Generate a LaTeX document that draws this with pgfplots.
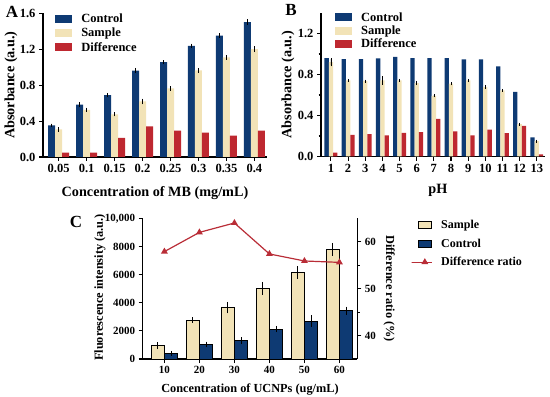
\documentclass[border=0pt]{standalone}
\usepackage{fontspec}
\setmainfont{Liberation Serif}
\usepackage{pgfplots}
\usepackage{pgfplotstable}
\pgfplotsset{compat=1.18}
\definecolor{cblue}{RGB}{14,58,115}
\definecolor{ccream}{RGB}{242,227,183}
\definecolor{cred}{RGB}{190,40,48}
\definecolor{cline}{RGB}{185,45,55}
\newcommand{\fs}[1]{\fontsize{#1}{#1}\selectfont\bfseries}

\pgfplotstableread{
x ctrl ce samp se diff
0 0.353 0.000 0.308 0.008 0.048
1 0.582 0.012 0.526 0.006 0.048
2 0.688 0.006 0.474 0.005 0.212
3 0.962 0.012 0.618 0.015 0.342
4 1.056 0.006 0.763 0.008 0.294
5 1.238 0.006 0.964 0.006 0.272
6 1.352 0.008 1.108 0.006 0.238
7 1.502 0.015 1.200 0.014 0.294
}\tabA

\pgfplotstableread{
x ctrl ce samp se diff
1 0.960 0.000 0.920 0.030 0.038
2 0.950 0.000 0.742 0.005 0.211
3 0.950 0.000 0.736 0.005 0.218
4 0.957 0.000 0.742 0.030 0.205
5 0.973 0.000 0.742 0.005 0.230
6 0.960 0.000 0.717 0.010 0.237
7 0.960 0.000 0.592 0.005 0.368
8 0.960 0.000 0.710 0.006 0.246
9 0.947 0.000 0.742 0.006 0.205
10 0.947 0.000 0.678 0.006 0.262
11 0.880 0.000 0.646 0.003 0.227
12 0.630 0.000 0.315 0.006 0.298
13 0.187 0.000 0.150 0.006 0.021
}\tabB

\pgfplotstableread{
x samp se ctrl ce ratio
0 950 100 400 40 57.9
1 2760 50 1040 50 62.0
2 3650 260 1300 120 64.0
3 5020 320 2130 80 57.4
4 6160 300 2700 260 55.9
5 7800 310 3430 150 55.6
}\tabC

\pgfplotsset{
  panel/.style={scale only axis, clip=false,
    axis x line*=bottom, axis y line*=left,
    axis line style={-, line width=1.3pt, black},
    tick style={line width=1.1pt, black},
    major tick length=4pt, minor tick length=2.5pt, tick align=outside,
    /pgf/number format/assume math mode=true},
  barleg/.style={legend image code/.code={\fill[##1] (0pt,-4pt) rectangle (17pt,4pt);}},
  barlegC/.style={legend image code/.code={\filldraw[##1] (0pt,-3.5pt) rectangle (13.6pt,3.5pt);}},
  lineleg/.style={legend image code/.code={\draw[##1] (0pt,0pt) -- (13.6pt,0pt); \draw[##1, mark=triangle*] plot coordinates {(6.8pt,0pt)};}},
  errs/.style={error bars/.cd, y dir=both, y explicit,
    error bar style={line width=0.7pt, black},
    error mark options={black, mark size=2pt, line width=0.7pt}},
  legsep/.style={legend style={/tikz/every odd column/.append style={column sep=#1}}},
}

\begin{document}
\begin{tikzpicture}[x=1pt,y=1pt]
\useasboundingbox (0,0) rectangle (550,397);

% ---------- Panel A ----------
\begin{axis}[panel, at={(43pt,240pt)}, anchor=south west,
  width=224pt, height=143.7pt,
  ybar=0pt, bar width=7pt,
  xmin=-0.56, xmax=7.45, ymin=0, ymax=1.6,
  xtick={0,...,7}, xticklabels={0.05,0.1,0.15,0.2,0.25,0.3,0.35,0.4},
  ytick={0,0.4,0.8,1.2,1.6},
  yticklabel style={/pgf/number format/fixed, /pgf/number format/fixed zerofill, /pgf/number format/precision=1},
  ticklabel style={font=\fs{12.5}},
  xlabel={Concentration of MB (mg/mL)}, ylabel={Absorbance (a.u.)},
  label style={font=\fs{14.2}},
  xlabel style={at={(axis description cs:0.5,-0.25)}, anchor=center},
  ylabel style={at={(axis description cs:-0.143,0.5)}, anchor=center},
  legend style={at={(axis description cs:0.054,1.011)}, anchor=north west, draw=none, fill=none,
    font=\fs{12.5}, row sep=0pt, inner sep=0pt},
  legsep=7pt,
  legend cell align=left,
]
\addplot[fill=cblue, draw=none, barleg, errs, error mark options={black, mark size=1.6pt, line width=0.7pt}] table[x=x, y=ctrl, y error=ce]{\tabA};
\addlegendentry{Control}
\addplot[fill=ccream, draw=none, barleg, errs, error mark options={black, mark size=1.6pt, line width=0.7pt}] table[x=x, y=samp, y error=se]{\tabA};
\addlegendentry{Sample}
\addplot[fill=cred, draw=none, barleg] table[x=x, y=diff]{\tabA};
\addlegendentry{Difference}
\end{axis}

% ---------- Panel B ----------
\begin{axis}[panel, at={(321pt,240.5pt)}, anchor=south west,
  width=224pt, height=143.5pt,
  ybar=0pt, bar width=4.3pt,
  xmin=0.42, xmax=13.48, ymin=0, ymax=1.4,
  xtick={1,...,13},
  ytick={0,0.4,0.8,1.2}, minor y tick num=1,
  yticklabel style={/pgf/number format/fixed, /pgf/number format/fixed zerofill, /pgf/number format/precision=1},
  ticklabel style={font=\fs{12.5}},
  xlabel={pH}, ylabel={Absorbance (a.u.)},
  label style={font=\fs{14.2}},
  xlabel style={at={(axis description cs:0.522,-0.233)}, anchor=center},
  ylabel style={at={(axis description cs:-0.147,0.5)}, anchor=center},
  legend style={at={(axis description cs:0.0625,1.02)}, anchor=north west, draw=none, fill=none,
    font=\fs{12.5}, row sep=-1pt, inner sep=0pt},
  legsep=7pt,
  legend cell align=left,
]
\addplot[fill=cblue, draw=none, barleg] table[x=x, y=ctrl]{\tabB};
\addlegendentry{Control}
\addplot[fill=ccream, draw=none, barleg, errs, error mark options={black, mark size=1pt, line width=0.6pt}, error bar style={line width=0.6pt, black}] table[x=x, y=samp, y error=se]{\tabB};
\addlegendentry{Sample}
\addplot[fill=cred, draw=none, barleg] table[x=x, y=diff]{\tabB};
\addlegendentry{Difference}
\end{axis}

% ---------- Panel C ----------
\begin{axis}[panel, at={(142.7pt,38pt)}, anchor=south west,
  width=214.6pt, height=140.7pt,
  ybar=0pt, bar width=13.3pt,
  xmin=-0.62, xmax=5.51, ymin=0, ymax=10000,
  xtick={0,...,5}, xticklabels={10,20,30,40,50,60},
  ytick={0,2000,4000,6000,8000,10000},
  yticklabels={0,2000,4000,6000,8000,{10,000}},
  scaled y ticks=false,
  ticklabel style={font=\fs{11}},
  xlabel={Concentration of UCNPs (ug/mL)}, ylabel={Fluorescence intensity (a.u.)},
  label style={font=\fs{12.3}},
  xlabel style={at={(axis description cs:0.5,-0.215)}, anchor=center},
  ylabel style={at={(axis description cs:-0.199,0.508)}, anchor=center},
  legend style={at={(axis description cs:1.249,1.0)}, anchor=north west, draw=none, fill=none,
    font=\fs{12}, row sep=4.5pt, inner sep=0pt},
  legsep=7pt,
  legend cell align=left,
]
\addplot[fill=ccream, draw=black, line width=1pt, barlegC, errs] table[x=x, y=samp, y error=se]{\tabC};
\addlegendentry{Sample}
\addplot[fill=cblue, draw=black, line width=1pt, barlegC, errs] table[x=x, y=ctrl, y error=ce]{\tabC};
\addlegendentry{Control}
\addlegendimage{lineleg, color=cline, line width=1.2pt, mark size=2.8pt}
\addlegendentry{Difference ratio}
\end{axis}

\begin{axis}[scale only axis, clip=false, at={(142.7pt,38pt)}, anchor=south west,
  width=214.6pt, height=140.7pt,
  xmin=-0.62, xmax=5.51, ymin=35, ymax=65,
  axis x line=none, axis y line*=right,
  axis line style={-, line width=1.3pt, black},
  tick style={line width=1.1pt, black},
  major tick length=4pt, minor tick length=2.5pt, tick align=outside,
  ytick={40,50,60}, minor y tick num=1,
  /pgf/number format/assume math mode=true,
  ticklabel style={font=\fs{11}},
  ylabel={Difference ratio (\%)},
  label style={font=\fs{12.3}},
  ylabel style={at={(axis description cs:1.148,0.5)}, anchor=center, rotate=180},
]
\addplot[color=cline, line width=1.2pt, mark=triangle*, mark size=2.8pt] table[x=x, y=ratio]{\tabC};
\end{axis}

\node[font=\fs{17}] at (12,385) {A};
\node[font=\fs{17}] at (291,387) {B};
\node[font=\fs{17}] at (76,175) {C};
\end{tikzpicture}
\end{document}
